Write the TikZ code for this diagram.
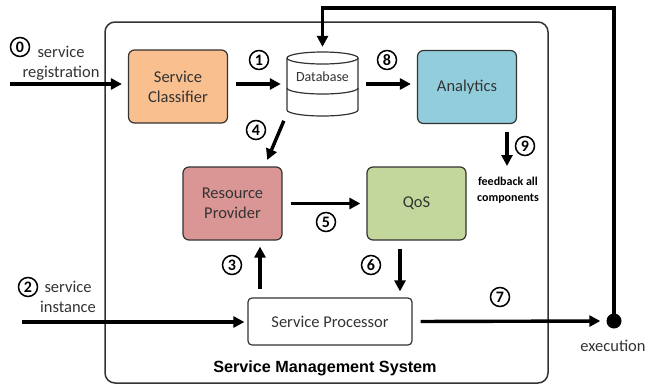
\documentclass[tikz,border=0pt]{standalone}
\usepackage{fontspec}
\setmainfont{Carlito}
\newfontfamily\titrefont{Liberation Sans}
\usetikzlibrary{arrows.meta,positioning}

\definecolor{classif}{HTML}{F9BF8F}
\definecolor{analyt}{HTML}{92CDDC}
\definecolor{fournis}{HTML}{D99694}
\definecolor{qualite}{HTML}{C3D69B}
\definecolor{trait}{HTML}{333333}

\tikzset{
  boite/.style={draw=trait,line width=1.2pt,rounded corners=6pt,minimum width=99pt,
    minimum height=73pt,align=center,text=trait,font=\fontsize{16.5}{20}\selectfont},
  fleche/.style={line width=3.4pt,-{Triangle[length=11pt,width=11pt]},
    shorten <=8pt,shorten >=6pt},
  num/.style={circle,draw,line width=1.5pt,inner sep=0pt,minimum size=19pt,
    font=\bfseries\fontsize{16}{16}\selectfont},
  etiquette/.style={align=center,text=trait,font=\fontsize{16.5}{20}\selectfont},
}

\begin{document}
\begin{tikzpicture}[x=1pt,y=-1pt]
  \useasboundingbox (0,0) rectangle (645,386);

  % Cadre du système
  \draw[trait,line width=1.5pt,rounded corners=10pt] (105,22) rectangle (548,383);
  \node[font=\titrefont\bfseries\fontsize{16.2}{16}\selectfont] (titre) at (325,368) {Service Management System};

  % Composants
  \node[boite,fill=classif] (classif) at (178,86.5) {Service\\Classifier};
  \node[boite,fill=analyt] (analytics) at (467,87) {Analytics};
  \node[boite,fill=fournis] (rp) at (232.5,203.5) {Resource\\Provider};
  \node[boite,fill=qualite] (qos) at (416.5,203.5) {QoS};
  \node[boite,fill=white,rounded corners=4pt,minimum width=164pt,minimum height=47pt] (sp) at (330,321.5) {Service Processor};

  % Base de données (cylindre)
  \node[minimum width=71pt,minimum height=64pt,inner sep=0pt] (db) at (322.5,84) {};
  \draw[trait,line width=1.2pt,fill=white] (287,58) -- (287,110)
    arc[start angle=180,end angle=0,x radius=35.5,y radius=6] -- (358,58);
  \draw[trait,line width=1.2pt,fill=white] (322.5,58) ellipse[x radius=35.5,y radius=6];
  \draw[trait,line width=1.2pt] (287,88) arc[start angle=180,end angle=0,x radius=35.5,y radius=6];
  \node[text=trait,font=\fontsize{14}{14}\selectfont] (dbtexte) at (322.5,77) {Database};

  % Sortie
  \node[circle,fill,inner sep=0pt,minimum size=15pt] (exec) at (614,321) {};
  \node[etiquette] (exectexte) at (613,346) {execution};

  % Points d'entrée
  \coordinate (entree0) at (10,84);
  \coordinate (entree2) at (22,322);
  \coordinate (retour) at (614,8);
  \coordinate (fb) at (507,166);

  % Flèches
  \draw[fleche,shorten <=0pt] (entree0) -- (classif.west |- entree0);
  \draw[fleche] (classif.east |- db) -- (db.west);
  \draw[fleche] (db.east) -- (analytics.west |- db);
  \draw[fleche,shorten <=5pt,shorten >=7pt] ([shift={(-1,0)}]db.south west) -- ([shift={(32,0)}]rp.north);
  \draw[fleche] (rp.east) -- (qos.west);
  \draw[fleche,shorten >=0pt] ([xshift=40pt]analytics.south) -- (fb);
  \draw[fleche] ([xshift=-70pt]sp.north) -- ([xshift=27.5pt]rp.south);
  \draw[fleche] ([xshift=-16.5pt]qos.south) -- ([xshift=70pt]sp.north);
  \draw[fleche,shorten <=0pt,shorten >=3pt] (entree2) -- (sp.west |- entree2);
  \draw[fleche] (sp.east) -- (exec.west);
  \draw[fleche,shorten <=0pt,shorten >=5pt] (exec.center) -- (retour) -| (db.north);

  % Numéros des étapes
  \node[num] (n0) at (20,47) {0};
  \node[num] (n1) at (259,60) {1};
  \node[num] (n2) at (28,287) {2};
  \node[num] (n3) at (232,265) {3};
  \node[num] (n4) at (256,130) {4};
  \node[num] (n5) at (326,222) {5};
  \node[num] (n6) at (371,265) {6};
  \node[num] (n7) at (500,297) {7};
  \node[num] (n8) at (387,60) {8};
  \node[num] (n9) at (525,146) {9};

  % Textes
  \node[etiquette] (enreg) at (61,63) {service\\registration};
  \node[etiquette] (instance) at (68,297) {service\\instance};
  \node[align=center,font=\bfseries\fontsize{12}{15.5}\selectfont] (retourtexte) at (508,190) {feedback all\\components};
\end{tikzpicture}
\end{document}
